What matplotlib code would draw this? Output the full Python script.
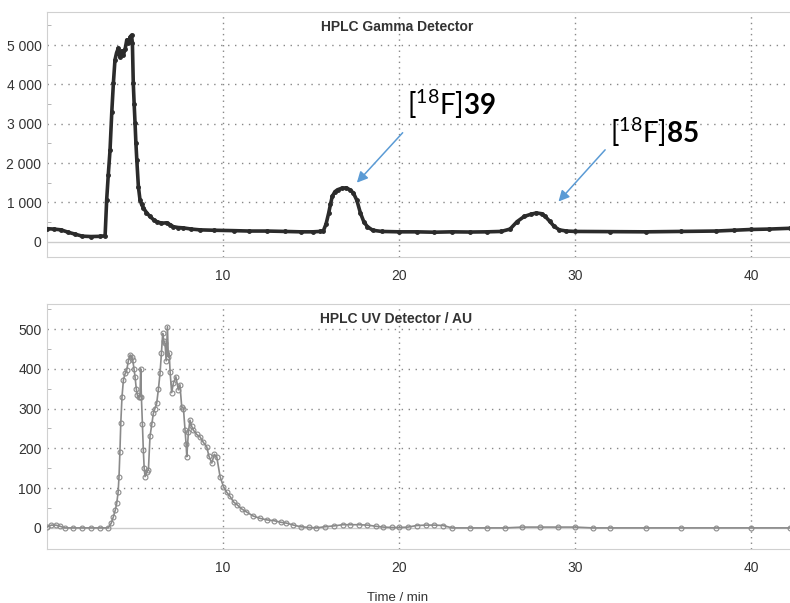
import numpy as np
import matplotlib
matplotlib.use("Agg")
import matplotlib.pyplot as plt

plt.rcParams['font.family'] = ['Liberation Sans', 'DejaVu Sans']
plt.rcParams['mathtext.fontset'] = 'custom'
plt.rcParams['mathtext.rm'] = 'Lato'
plt.rcParams['mathtext.bf'] = 'Lato:bold'

# gamma detector trace (time in min, counts)
gamma_t = [0, 0.4, 0.8, 1.2, 1.6, 2.0, 2.5, 3.0, 3.3, 3.39, 3.48, 3.58, 3.68, 3.77,
           3.86, 3.95, 4.05, 4.15, 4.25, 4.34, 4.44, 4.53, 4.62, 4.72, 4.80, 4.85,
           4.90, 4.95, 5.0, 5.05, 5.10, 5.19, 5.28, 5.37, 5.47, 5.65, 5.85, 6.05,
           6.23, 6.5, 6.8, 7.0, 7.18, 7.45, 7.75, 8.2, 8.69, 9.5, 10.6, 11.5, 12.5,
           13.5, 14.4, 15.1, 15.5, 15.7, 15.85, 16.0, 16.1, 16.2, 16.35, 16.5,
           16.75, 17.0, 17.2, 17.4, 17.6, 17.8, 18.0, 18.2, 18.5, 19.0, 20.0, 21,
           22, 23, 24, 25, 25.8, 26.3, 26.7, 27.1, 27.5, 27.8, 28.1, 28.3, 28.55,
           28.8, 29.1, 29.5, 30, 32, 34, 36, 38, 39, 40, 41, 42.2]
gamma_y = [330, 320, 300, 240, 190, 140, 130, 135, 150, 1070, 1700, 2330, 3300, 4030,
           4620, 4800, 4920, 4700, 4850, 4750, 4900, 5130, 5050, 5200, 5250, 5050,
           4030, 3500, 3020, 2500, 2080, 1400, 1070, 950, 860, 740, 640, 560,
           510, 470, 480, 430, 380, 360, 350, 320, 300, 290, 280, 270, 270,
           260, 250, 250, 260, 280, 450, 730, 950, 1150, 1270, 1320,
           1360, 1370, 1320, 1240, 1050, 730, 500, 380, 290, 260, 250, 250,
           240, 250, 245, 250, 260, 320, 510, 640, 700, 730, 710, 640, 520,
           390, 300, 270, 260, 255, 250, 260, 270, 290, 310, 320, 340]

# UV detector trace (time in min, AU)
uv_t = [0, 0.25, 0.5, 0.75, 1.0, 1.5, 2.0, 2.5, 3.0, 3.48, 3.65, 3.77, 3.88, 3.96,
        4.04, 4.09, 4.14, 4.19, 4.26, 4.34, 4.45, 4.53, 4.62, 4.72, 4.80, 4.87,
        4.94, 5.0, 5.07, 5.13, 5.2, 5.28, 5.32, 5.36, 5.42, 5.47, 5.52, 5.57,
        5.66, 5.76, 5.85, 5.95, 6.04, 6.13, 6.23, 6.33, 6.42, 6.50, 6.57, 6.63,
        6.70, 6.77, 6.84, 6.89, 6.94, 6.99, 7.08, 7.18, 7.32, 7.46, 7.55, 7.65,
        7.75, 7.84, 7.90, 7.94, 8.03, 8.12, 8.22, 8.31, 8.5, 8.69, 8.88, 9.07,
        9.2, 9.36, 9.5, 9.64, 9.83, 10.02, 10.2, 10.4, 10.6, 10.8, 11.05, 11.3,
        11.7, 12.1, 12.5, 12.9, 13.3, 13.6, 14.0, 14.4, 14.9, 15.3, 15.8, 16.3,
        16.8, 17.2, 17.7, 18.2, 18.7, 19.1, 19.6, 20.0, 20.5, 21.0, 21.5, 22.0,
        22.5, 23.0, 24, 25, 26, 27, 28, 29, 30, 31, 32, 34, 36, 38, 40, 42.2]
uv_y = [2, 7, 7, 4, 0, 0, 0, 0, 0, 0, 12, 28, 45, 62,
        90, 129, 190, 263, 330, 372, 390, 397, 420, 435, 430, 422,
        400, 380, 350, 334, 330, 330, 400, 330, 260, 196, 150, 129,
        140, 146, 230, 260, 288, 300, 313, 350, 389, 440, 489, 470,
        465, 420, 506, 430, 440, 393, 340, 364, 380, 347, 360, 305,
        300, 246, 210, 179, 240, 271, 255, 246, 235, 229, 215, 204,
        180, 163, 185, 179, 129, 104, 90, 79, 65, 58, 48, 41,
        30, 24, 20, 18, 14, 12, 7, 3, 1, 0, 3, 5,
        8, 8, 8, 7, 4, 2, 1, 1, 2, 6, 7, 7,
        6, 0, 0, 0, 0, 2, 2, 2, 2, 0, 0, 0, 0, 0, 0, 0]

gamma_ticks = [0, 1000, 2000, 3000, 4000, 5000]
gamma_labels = ['0', '1 000', '2 000', '3 000', '4 000', '5 000']
uv_ticks = [0, 100, 200, 300, 400, 500]
x_ticks = [10, 20, 30, 40]

fig = plt.figure(figsize=(7.9, 6.03), dpi=100)
ax1 = fig.add_axes([0.0595, 0.5738, 0.9405, 0.4063])
ax2 = fig.add_axes([0.0595, 0.0896, 0.9405, 0.4063])


def style(ax, yticks, ylabels, ylim, minor):
    ax.set_xlim(0, 42.2)
    ax.set_ylim(*ylim)
    ax.set_xticks(x_ticks)
    ax.set_yticks(yticks)
    ax.set_yticklabels(ylabels)
    ax.set_yticks(minor, minor=True)
    ax.tick_params(axis='both', which='major', length=0, labelsize=10,
                   labelcolor='#333333')
    ax.tick_params(axis='x', pad=9)
    ax.tick_params(axis='y', pad=4)
    ax.tick_params(axis='y', which='minor', direction='in', length=3,
                   color='#aaaaaa')
    ax.grid(True, axis='x', which='major', linestyle=(0, (1, 3)),
            color='#888888', lw=1)
    ax.grid(True, axis='y', which='major', linestyle=(0, (1, 4)),
            color='#888888', lw=1)
    ax.get_ygridlines()[0].set_visible(False)
    ax.axhline(0, color='#cccccc', lw=1, zorder=1)
    for s in ['left', 'top', 'bottom']:
        ax.spines[s].set_color('#d0d0d0')
    ax.spines['right'].set_visible(False)


style(ax1, gamma_ticks, gamma_labels, (-390, 5840),
      [500, 1500, 2500, 3500, 4500, 5500])
style(ax2, uv_ticks, [str(v) for v in uv_ticks], (-53, 563),
      [50, 150, 250, 350, 450, 550])

ax1.plot(gamma_t, gamma_y, color='#2b2b2b', lw=2.6, marker='o', ms=2.5,
         zorder=3)
ax2.plot(uv_t, uv_y, color='#8a8a8a', lw=1.2, marker='o', ms=3.5,
         mfc='none', mec='#8a8a8a', mew=0.8, zorder=3)

ax1.text(0.471, 0.94, 'HPLC Gamma Detector', transform=ax1.transAxes,
         ha='center', va='center', fontsize=10, fontweight='bold',
         color='#333333')
ax2.text(0.470, 0.94, 'HPLC UV Detector / AU', transform=ax2.transAxes,
         ha='center', va='center', fontsize=10, fontweight='bold',
         color='#333333')
fig.text(0.503, 0.008, 'Time / min', ha='center', va='center', fontsize=9.5,
         color='#333333')

arrow = dict(arrowstyle='-|>', color='#5b9bd5', lw=1.1, mutation_scale=16,
             shrinkA=0, shrinkB=0)
ax1.annotate('', xy=(17.6, 1500), xytext=(20.2, 2770), arrowprops=arrow)
ax1.annotate('', xy=(29.05, 1020), xytext=(31.7, 2335), arrowprops=arrow)
ax1.text(20.45, 3220, r'$\mathrm{[^{18}F]}\mathbf{39}$', fontsize=20,
         color='black', ha='left', va='baseline')
ax1.text(32.0, 2510, r'$\mathrm{[^{18}F]}\mathbf{85}$', fontsize=20,
         color='black', ha='left', va='baseline')

fig.savefig('out.png', dpi=100, facecolor='white')
